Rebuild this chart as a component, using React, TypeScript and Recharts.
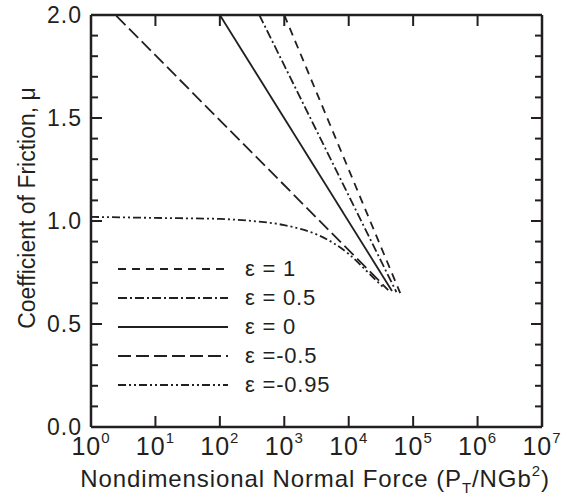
import { Legend, Line, LineChart, XAxis, YAxis } from 'recharts'

// x = P_T/NGb^2, y = mu
const eps1X = [1000, 63000]
const eps1Y = [2.0, 0.65]
const eps05X = [410, 55000]
const eps05Y = [2.0, 0.655]
const eps0X = [100, 47000]
const eps0Y = [2.0, 0.66]
const epsM05X = [1, 41000]
const epsM05Y = [2.12, 0.665]
const epsM095X = [1, 10, 100, 316, 1000, 3162, 6000, 10000, 20000, 35000]
const epsM095Y = [1.02, 1.015, 1.01, 1.0, 0.98, 0.935, 0.89, 0.84, 0.75, 0.675]

const xTicks = [1, 10, 100, 1000, 10000, 100000, 1000000, 10000000]
const yTicks = [0, 0.1, 0.2, 0.3, 0.4, 0.5, 0.6, 0.7, 0.8, 0.9, 1.0, 1.1, 1.2, 1.3, 1.4, 1.5, 1.6, 1.7, 1.8, 1.9, 2.0]

const seriesNames = ['ε = 1', 'ε = 0.5', 'ε = 0', 'ε =-0.5', 'ε =-0.95']
const dashes = ['8 6', '9 3 2 3', '', '13 5', '8 3 2 3 2 3']

const zip = (xs: number[], ys: number[]) => xs.map((x, i) => ({ x, y: ys[i] }))
const series = [
    zip(eps1X, eps1Y),
    zip(eps05X, eps05Y),
    zip(eps0X, eps0Y),
    zip(epsM05X, epsM05Y),
    zip(epsM095X, epsM095Y),
]

const INK = '#231f20'
const FONT = '"Liberation Sans", Arial, sans-serif'

const isMajor = (v: number) => Math.abs(v * 2 - Math.round(v * 2)) < 1e-6

const XTick = (props: any) => {
    const { x, y, payload } = props
    const exp = Math.round(Math.log10(payload.value))
    return (
        <g>
            <line x1={x} x2={x} y1={y} y2={y - 11} stroke={INK} strokeWidth={2} />
            <text x={x} y={y + 28} textAnchor='middle' fontSize={25} fill={INK} fontFamily={FONT} letterSpacing={1}>
                10<tspan dy={-12} fontSize={15}>{exp}</tspan>
            </text>
        </g>
    )
}

const TopTick = (props: any) => {
    const { x, y } = props
    return <line x1={x} x2={x} y1={y} y2={y + 11} stroke={INK} strokeWidth={2} />
}

const YTick = (props: any) => {
    const { x, y, payload } = props
    const major = isMajor(payload.value)
    return (
        <g>
            <line x1={x} x2={x + (major ? 11 : 7)} y1={y} y2={y} stroke={INK} strokeWidth={2} />
            {major && (
                <text x={x - 9} y={y + 8} textAnchor='end' fontSize={23} fill={INK} fontFamily={FONT} letterSpacing={1}>
                    {payload.value.toFixed(1)}
                </text>
            )}
        </g>
    )
}

const RightTick = (props: any) => {
    const { x, y, payload } = props
    const major = isMajor(payload.value)
    return <line x1={x} x2={x - (major ? 11 : 7)} y1={y} y2={y} stroke={INK} strokeWidth={2} />
}

const XLabel = () => (
    <text x={315} y={487} textAnchor='middle' fontSize={24} fill={INK} fontFamily={FONT} letterSpacing={0.9}>
        Nondimensional Normal Force (P<tspan dy={6} fontSize={15}>T</tspan>
        <tspan dy={-6}>/NGb</tspan>
        <tspan dy={-11} fontSize={15}>2</tspan>
        <tspan dy={11}>)</tspan>
    </text>
)

const YLabel = () => (
    <text transform='translate(35,208) rotate(-90)' textAnchor='middle' fontSize={23} fill={INK} fontFamily={FONT}>
        Coefficient of Friction, μ
    </text>
)

const LegendBox = () => (
    <svg width={260} height={150}>
        {seriesNames.map((name, i) => (
            <g key={name}>
                <line x1={8} x2={118} y1={14 + i * 29} y2={14 + i * 29} stroke={INK} strokeWidth={2}
                    strokeDasharray={dashes[i] || undefined} />
                <text x={135} y={21 + i * 29} fontSize={22} fill={INK} fontFamily={FONT} letterSpacing={0.8}>{name}</text>
            </g>
        ))}
    </svg>
)

const App = () => {
    return (
        <div style={{ position: 'absolute', left: 0, top: 0, background: '#fff' }}>
            <LineChart width={570} height={497} margin={{ top: 0, right: 0, bottom: 0, left: 0 }}>
                <XAxis dataKey='x' type='number' scale='log' domain={[1, 10000000]} allowDataOverflow
                    ticks={xTicks} interval={0} tickSize={0} tickMargin={0} tickLine={false} height={70}
                    axisLine={{ stroke: INK, strokeWidth: 2.5 }} tick={<XTick />} label={{ content: () => <XLabel /> }} />
                <XAxis xAxisId='top' orientation='top' dataKey='x' type='number' scale='log' domain={[1, 10000000]}
                    allowDataOverflow ticks={xTicks} interval={0} tickSize={0} tickMargin={0} tickLine={false} height={15}
                    axisLine={{ stroke: INK, strokeWidth: 2.5 }} tick={<TopTick />} />
                <YAxis dataKey='y' type='number' domain={[0, 2]} allowDataOverflow ticks={yTicks} interval={0}
                    tickSize={0} tickMargin={0} tickLine={false} width={91}
                    axisLine={{ stroke: INK, strokeWidth: 2.5 }} tick={<YTick />} label={{ content: () => <YLabel /> }} />
                <YAxis yAxisId='right' orientation='right' type='number' domain={[0, 2]} allowDataOverflow
                    ticks={yTicks} interval={0} tickSize={0} tickMargin={0} tickLine={false} width={28}
                    axisLine={{ stroke: INK, strokeWidth: 2.5 }} tick={<RightTick />} />
                <Legend layout='vertical' align='center' verticalAlign='middle'
                    wrapperStyle={{ position: 'absolute', left: 110, top: 255, width: 260, height: 150 }}
                    content={() => <LegendBox />} />
                {series.map((d, i) => (
                    <Line key={seriesNames[i]} data={d} dataKey='y' name={seriesNames[i]}
                        type={i === 4 ? 'monotone' : 'linear'} stroke={INK} strokeWidth={1.8}
                        strokeDasharray={dashes[i] || undefined} dot={false} activeDot={false}
                        isAnimationActive={false} />
                ))}
            </LineChart>
        </div>
    )
}

export default App
